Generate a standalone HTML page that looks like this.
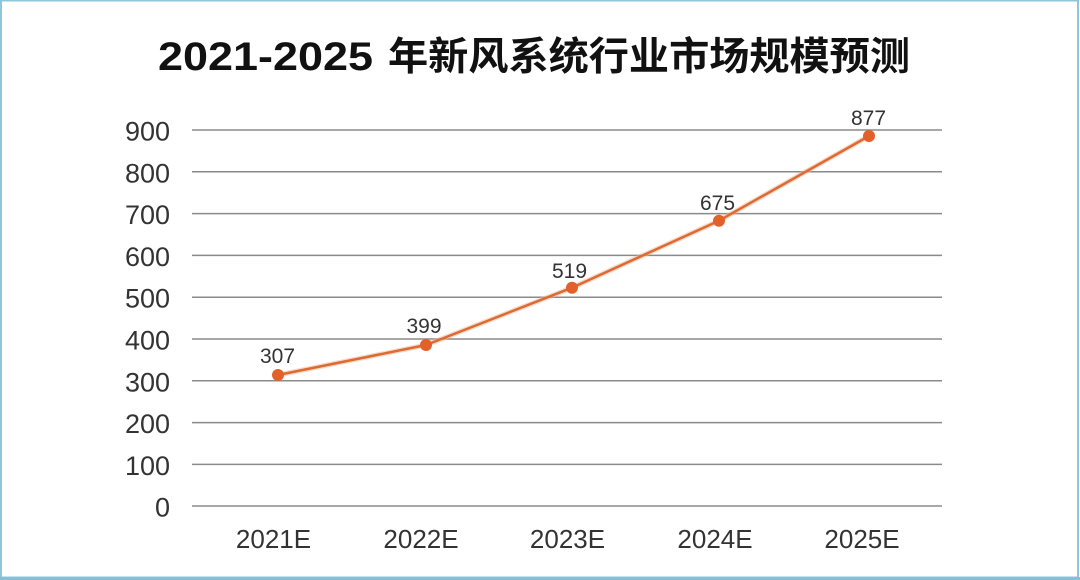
<!DOCTYPE html>
<html>
<head>
<meta charset="utf-8">
<style>
html,body{margin:0;padding:0;background:#fff;}
svg{display:block;}
</style>
</head>
<body>
<svg width="1080" height="580" viewBox="0 0 1080 580" xmlns="http://www.w3.org/2000/svg">
  <rect x="0" y="0" width="1080" height="580" fill="#ffffff"/>
  <!-- border -->
  <rect x="1" y="0.5" width="1077" height="577" fill="none" stroke="#8ec6dc" stroke-width="2"/>
  <rect x="0" y="577" width="1080" height="3" fill="#86bfd6"/>

  <!-- title -->
  <text x="158" y="70" font-family="Liberation Sans, sans-serif" font-weight="bold" font-size="40" fill="#111" textLength="215" lengthAdjust="spacingAndGlyphs">2021-2025</text>
  <text x="388" y="70" font-family="Liberation Sans, Noto Sans CJK SC, sans-serif" font-weight="bold" font-size="39" fill="#111" textLength="522" lengthAdjust="spacingAndGlyphs">年新风系统行业市场规模预测</text>

  <!-- gridlines -->
  <g stroke="#8a8a8a" stroke-width="1.5">
    <line x1="192" y1="130" x2="942" y2="130"/>
    <line x1="192" y1="171.8" x2="942" y2="171.8"/>
    <line x1="192" y1="213.6" x2="942" y2="213.6"/>
    <line x1="192" y1="255.4" x2="942" y2="255.4"/>
    <line x1="192" y1="297.2" x2="942" y2="297.2"/>
    <line x1="192" y1="339" x2="942" y2="339"/>
    <line x1="192" y1="380.8" x2="942" y2="380.8"/>
    <line x1="192" y1="422.6" x2="942" y2="422.6"/>
    <line x1="192" y1="464.4" x2="942" y2="464.4"/>
    <line x1="192" y1="506" x2="942" y2="506"/>
  </g>

  <!-- y labels -->
  <g font-family="Liberation Sans, sans-serif" font-size="27" fill="#333" text-anchor="end">
    <text x="170" y="140.5">900</text>
    <text x="170" y="182.3">800</text>
    <text x="170" y="224.1">700</text>
    <text x="170" y="265.9">600</text>
    <text x="170" y="307.7">500</text>
    <text x="170" y="349.5">400</text>
    <text x="170" y="391.3">300</text>
    <text x="170" y="433.1">200</text>
    <text x="170" y="474.9">100</text>
    <text x="170" y="516.5">0</text>
  </g>

  <!-- x labels -->
  <g font-family="Liberation Sans, sans-serif" font-size="26" fill="#333" text-anchor="middle">
    <text x="273.5" y="548">2021E</text>
    <text x="421" y="548">2022E</text>
    <text x="567.5" y="548">2023E</text>
    <text x="715" y="548">2024E</text>
    <text x="862" y="548">2025E</text>
  </g>

  <!-- series -->
  <polyline points="278,375 426,345 572,287.7 719,220.7 869,136" fill="none" stroke="#f2b58f" stroke-width="5" stroke-linejoin="round" opacity="0.5"/>
  <polyline points="278,375 426,345 572,287.7 719,220.7 869,136" fill="none" stroke="#dd6a33" stroke-width="2.5" stroke-linejoin="round"/>
  <g fill="#e2612a">
    <circle cx="278" cy="375" r="6"/>
    <circle cx="426" cy="345" r="6"/>
    <circle cx="572" cy="287.7" r="6"/>
    <circle cx="719" cy="220.7" r="6"/>
    <circle cx="869" cy="136" r="6"/>
  </g>

  <!-- data labels -->
  <g font-family="Liberation Sans, sans-serif" font-size="21" fill="#333" text-anchor="middle">
    <text x="277.5" y="363">307</text>
    <text x="424" y="333">399</text>
    <text x="569.5" y="278">519</text>
    <text x="717.5" y="210">675</text>
    <text x="868.5" y="125">877</text>
  </g>
</svg>
</body>
</html>
